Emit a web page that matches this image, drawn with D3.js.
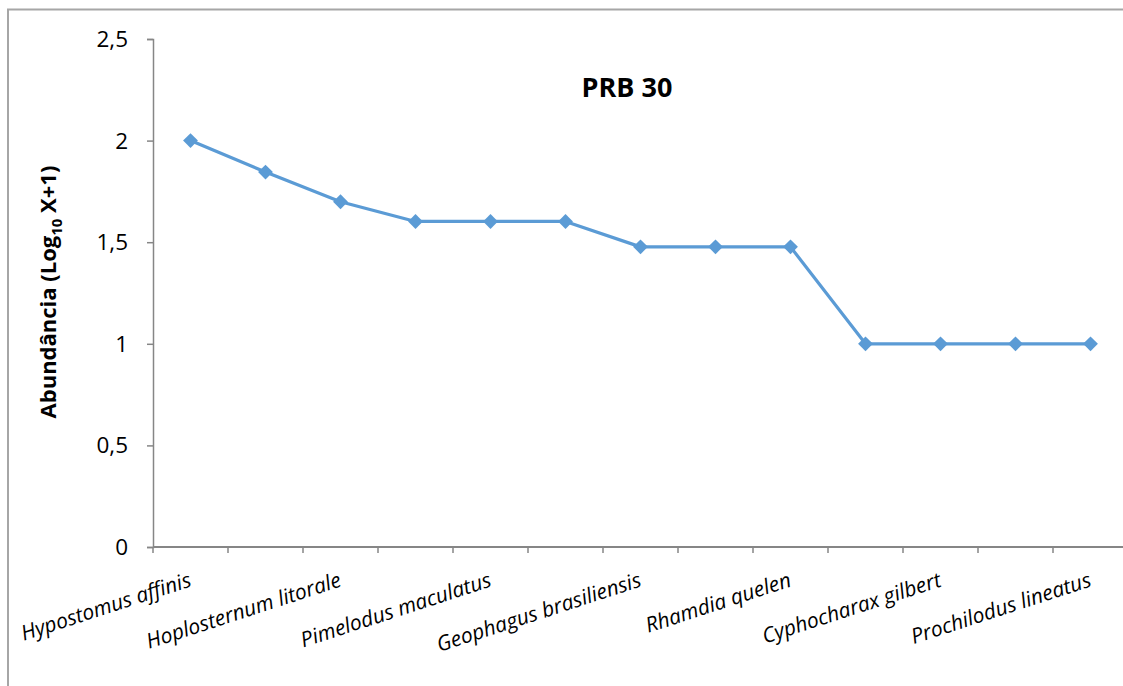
<!DOCTYPE html>
<html>
<head>
<meta charset="utf-8">
<script src="https://cdn.jsdelivr.net/npm/d3@7"></script>
<style>
  html, body { margin: 0; padding: 0; background: #fff; }
  svg { display: block; font-family: "Open Sans", "Noto Sans", sans-serif; }
</style>
</head>
<body>
<svg id="chart" width="1123" height="686"></svg>
<script>
// Species in ranked order (only every other name is printed on the axis)
const species = [
  "Hypostomus affinis", "", "Hoplosternum litorale", "", "Pimelodus maculatus", "",
  "Geophagus brasiliensis", "", "Rhamdia quelen", "", "Cyphocharax gilbert", "",
  "Prochilodus lineatus"
];
// Abundance, log10(X+1)
const abundance = [2.0, 1.845, 1.699, 1.602, 1.602, 1.602, 1.477, 1.477, 1.477, 1.0, 1.0, 1.0, 1.0];
const yTicks = [0, 0.5, 1, 1.5, 2, 2.5];
const chartTitle = "PRB 30";

const svg = d3.select("#chart");
const axisColor = "#868686";
const lineColor = "#5b9bd5";

// outer chart-area frame
svg.append("rect")
  .attr("x", 8).attr("y", 9.5)
  .attr("width", 1140).attr("height", 700)
  .attr("fill", "none").attr("stroke", "#a6a6a6").attr("stroke-width", 2);

const plot = { left: 153, right: 1128, top: 39, bottom: 547 };

const x = d3.scaleBand()
  .domain(d3.range(species.length))
  .range([plot.left, plot.right])
  .paddingInner(0).paddingOuter(0);

const y = d3.scaleLinear().domain([0, 2.5]).range([plot.bottom, plot.top]);

// y axis
const yAxis = svg.append("g")
  .attr("transform", `translate(${plot.left},0)`)
  .call(d3.axisLeft(y).tickValues(yTicks).tickSize(6).tickPadding(19)
    .tickFormat(d => d3.format("")(d).replace(".", ",")));
yAxis.select(".domain").attr("stroke", axisColor).attr("stroke-width", 1.5);
yAxis.selectAll(".tick line").attr("stroke", axisColor).attr("stroke-width", 1.5);
yAxis.selectAll(".tick text")
  .attr("font-size", 22.5).attr("fill", "#000").attr("dy", "0.33em")
  .attr("font-family", "'Open Sans', sans-serif");

// x axis: ticks at category boundaries
const xBounds = d3.range(species.length + 1).map(i => plot.left + i * x.bandwidth());
const xAxisG = svg.append("g");
xAxisG.append("line")
  .attr("x1", plot.left).attr("x2", plot.right)
  .attr("y1", plot.bottom).attr("y2", plot.bottom)
  .attr("stroke", axisColor).attr("stroke-width", 2);
xAxisG.selectAll("line.tick")
  .data(xBounds)
  .join("line").attr("class", "tick")
  .attr("x1", d => d).attr("x2", d => d)
  .attr("y1", plot.bottom).attr("y2", plot.bottom + 6)
  .attr("stroke", axisColor).attr("stroke-width", 1.5);

// rotated category labels, ending under each category centre
xAxisG.selectAll("text.cat")
  .data(species.map((s, i) => ({ s, i })).filter(d => d.s !== ""))
  .join("text").attr("class", "cat")
  .attr("transform", d => `translate(${x(d.i) + x.bandwidth() / 2 + 2},${plot.bottom + 39}) rotate(-18)`)
  .attr("text-anchor", "end")
  .attr("font-size", 21)
  .attr("font-style", "italic")
  .attr("fill", "#000")
  .text(d => d.s);

// line + diamond markers
const cx = i => x(i) + x.bandwidth() / 2;
svg.append("path")
  .datum(abundance)
  .attr("fill", "none")
  .attr("stroke", lineColor)
  .attr("stroke-width", 3.2)
  .attr("stroke-linejoin", "round")
  .attr("d", d3.line().x((d, i) => cx(i)).y(d => y(d)));

svg.selectAll("path.marker")
  .data(abundance)
  .join("path").attr("class", "marker")
  .attr("transform", (d, i) => `translate(${cx(i)},${y(d)})`)
  .attr("d", d3.symbol().type(d3.symbolDiamond2).size(140))
  .attr("fill", lineColor);

// title
svg.append("text")
  .attr("x", 627).attr("y", 97)
  .attr("text-anchor", "middle")
  .attr("font-size", 27).attr("font-weight", "bold")
  .text(chartTitle);

// y-axis title with subscript
const yt = svg.append("text")
  .attr("transform", `translate(56,${(plot.top + plot.bottom) / 2 - 1}) rotate(-90)`)
  .attr("text-anchor", "middle")
  .attr("font-size", 22).attr("font-weight", "bold");
yt.append("tspan").text("Abundância (Log");
yt.append("tspan").attr("font-size", 15).attr("dy", 6).text("10");
yt.append("tspan").attr("dy", -6).text(" X+1)");
</script>
</body>
</html>
